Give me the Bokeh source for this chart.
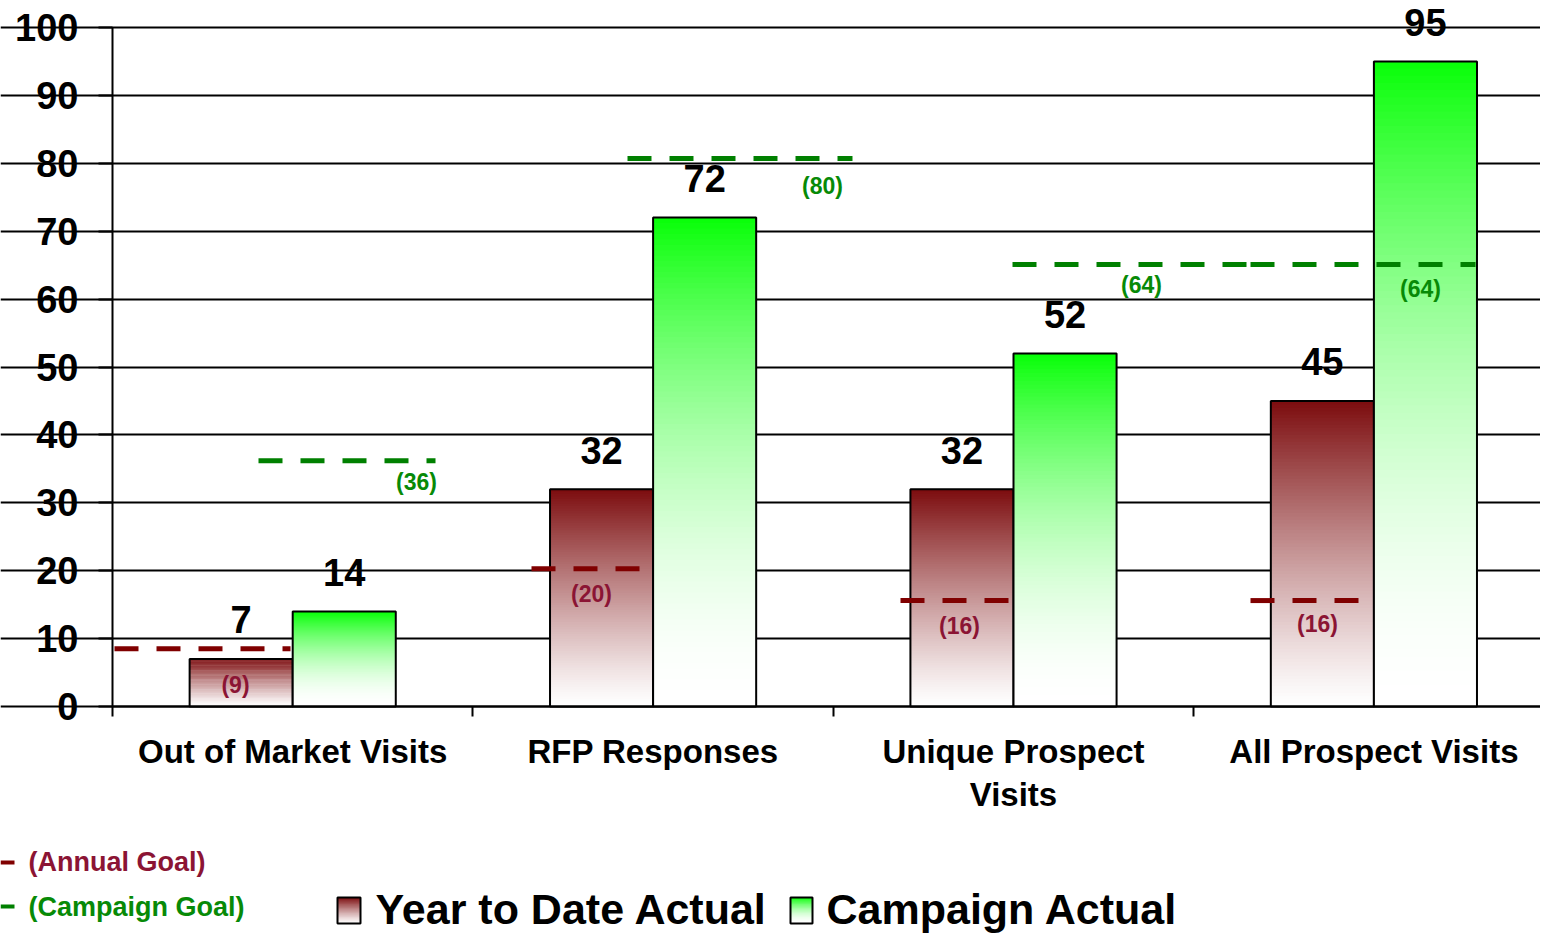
from bokeh.plotting import figure
from bokeh.models import Range1d, LinearAxis, FixedTicker, Grid
from bokeh.core.properties import value
from bokeh.embed import file_html
from bokeh.resources import INLINE

# ---- data ----
categories = ["Out of Market Visits", "RFP Responses", "Unique Prospect\nVisits", "All Prospect Visits"]
ytd_actual = [7, 32, 32, 45]
campaign_actual = [14, 72, 52, 95]
annual_goal = [9, 20, 16, 16]
campaign_goal = [36, 80, 64, 64]
# goal line levels as drawn in the picture
annual_goal_level = [8.5, 20.3, 15.6, 15.6]
campaign_goal_level = [36.2, 80.7, 65.1, 65.1]
y_ticks = [0, 10, 20, 30, 40, 50, 60, 70, 80, 90, 100]

# ---- layout constants ----
FONT = "Liberation Sans"
W, H = 1540, 933
AX_X, AX_Y = 112, 706   # pixel position of the data origin
PX_X = 360.4            # pixels per category
PX_Y = 6.79             # pixels per unit
X0 = -AX_X / PX_X
X1 = (W - AX_X) / PX_X
Y1 = AX_Y / PX_Y
Y0 = -(H - AX_Y) / PX_Y

def px_x(ix):  # pixel -> data x
    return (ix - AX_X) / PX_X

def px_y(iy):  # pixel -> data y
    return (AX_Y - iy) / PX_Y

BAR_W = 0.286
YTD_TOP = (124, 12, 14)
CAMP_TOP = (8, 255, 8)
YTD_GAMMA = 1.2
CAMP_GAMMA = 1.8
ANNUAL_LINE = "#800000"
ANNUAL_TEXT = "#8B1434"
CAMP_LINE = "#008000"
CAMP_TEXT = "#078A07"

p = figure(width=W, height=H, output_backend="svg", toolbar_location=None,
           x_range=Range1d(X0, X1), y_range=Range1d(Y0, Y1),
           x_axis_type=None, y_axis_type=None,
           min_border_left=0, min_border_right=0, min_border_top=0, min_border_bottom=0)
p.outline_line_color = None
p.background_fill_color = "white"
p.border_fill_color = "white"
p.xgrid.visible = False
p.ygrid.visible = False

yticker = FixedTicker(ticks=y_ticks, minor_ticks=[])
grid = Grid(dimension=1, ticker=yticker, grid_line_color="black", grid_line_width=2,
            bounds=(0, X1))
p.add_layout(grid)


def shade(rgb, f, gamma):
    g = f ** gamma
    return "#%02x%02x%02x" % tuple(int(round(255 + (c - 255) * g)) for c in rgb)


def gradient_rect(x0, x1, y0, y1, rgb, gamma, n=90):
    lefts, rights, bottoms, tops, colors = [], [], [], [], []
    step = (y1 - y0) / n
    for i in range(n):
        b = y0 + step * i
        t = min(y1, y0 + step * (i + 1.8))   # overlap to avoid seams
        lefts.append(x0)
        rights.append(x1)
        bottoms.append(b)
        tops.append(t)
        colors.append(shade(rgb, (i + 0.5) / n, gamma))
    p.quad(left=lefts, right=rights, bottom=bottoms, top=tops, fill_color=colors,
           line_color=None)
    p.quad(left=[x0], right=[x1], bottom=[y0], top=[y1],
           fill_color=None, line_color="black", line_width=2)


xs_ytd = [i + 0.5 - BAR_W / 2 for i in range(len(categories))]
xs_camp = [i + 0.5 + BAR_W / 2 for i in range(len(categories))]
for i in range(len(categories)):
    gradient_rect(xs_ytd[i] - BAR_W / 2, xs_ytd[i] + BAR_W / 2, 0, ytd_actual[i],
                  YTD_TOP, YTD_GAMMA)
    gradient_rect(xs_camp[i] - BAR_W / 2, xs_camp[i] + BAR_W / 2, 0, campaign_actual[i],
                  CAMP_TOP, CAMP_GAMMA)

# value labels
p.text(x=xs_ytd + xs_camp, y=ytd_actual + campaign_actual,
       text=[str(v) for v in ytd_actual + campaign_actual],
       text_font=value(FONT), text_font_style="bold", text_font_size="38px",
       text_align="center", text_baseline="alphabetic", y_offset=-39, text_color="black")

# goal lines (extents)
annual_x0 = [px_x(114), px_x(531), px_x(900), px_x(1250)]
annual_x1 = [px_x(290), px_x(640), px_x(1010), px_x(1360)]
camp_x0 = [px_x(258), px_x(627), px_x(1012), px_x(1250)]
camp_x1 = [px_x(435), px_x(852), px_x(1250), px_x(1475)]

p.segment(x0=annual_x0, x1=annual_x1, y0=annual_goal_level, y1=annual_goal_level,
          line_color=ANNUAL_LINE, line_width=5, line_dash="24 18")
p.segment(x0=camp_x0, x1=camp_x1, y0=campaign_goal_level, y1=campaign_goal_level,
          line_color=CAMP_LINE, line_width=5, line_dash="24 18")

# goal labels
annual_lbl_x = [px_x(235), px_x(591), px_x(959), px_x(1317)]
annual_lbl_dy = [36, 25, 25, 23]
camp_lbl_x = [px_x(416), px_x(822), px_x(1141), px_x(1420)]
camp_lbl_dy = [21, 27, 21, 25]
for i in range(len(categories)):
    p.text(x=[annual_lbl_x[i]], y=[annual_goal_level[i]], text=["(%d)" % annual_goal[i]],
           text_font=value(FONT), text_font_style="bold", text_font_size="23px",
           text_align="center", text_baseline="middle", y_offset=annual_lbl_dy[i],
           text_color=ANNUAL_TEXT)
    p.text(x=[camp_lbl_x[i]], y=[campaign_goal_level[i]], text=["(%d)" % campaign_goal[i]],
           text_font=value(FONT), text_font_style="bold", text_font_size="23px",
           text_align="center", text_baseline="middle", y_offset=camp_lbl_dy[i],
           text_color=CAMP_TEXT)

# axes
yaxis = LinearAxis(ticker=yticker, fixed_location=0, bounds=(0, 100),
                   axis_line_color="black", axis_line_width=2,
                   major_tick_line_color="black", major_tick_line_width=2,
                   major_tick_out=14, major_tick_in=0,
                   minor_tick_line_color=None,
                   major_label_standoff=20,
                   major_label_text_font=FONT, major_label_text_font_style="bold",
                   major_label_text_font_size="38px", major_label_text_color="black")
p.add_layout(yaxis, "left")

xticker = FixedTicker(ticks=[i + 0.5 for i in range(len(categories))],
                      minor_ticks=list(range(len(categories))))
xaxis = LinearAxis(ticker=xticker, fixed_location=0, bounds=(0, X1),
                   axis_line_color="black", axis_line_width=2,
                   major_tick_line_color=None, major_tick_out=0, major_tick_in=0,
                   minor_tick_line_color="black", minor_tick_line_width=2,
                   minor_tick_out=10, minor_tick_in=0,
                   major_label_standoff=16,
                   major_label_overrides={i + 0.5: c for i, c in enumerate(categories)},
                   major_label_text_font=FONT, major_label_text_font_style="bold",
                   major_label_text_font_size="33px", major_label_text_color="black",
                   major_label_text_line_height=1.17)
p.add_layout(xaxis, "below")

# left goal legend
p.segment(x0=[X0, X0], x1=[px_x(14), px_x(14)], y0=[px_y(862), px_y(906)],
          y1=[px_y(862), px_y(906)], line_color=[ANNUAL_LINE, CAMP_LINE], line_width=4)
p.text(x=[px_x(28), px_x(28)], y=[px_y(861), px_y(906)],
       text=["(Annual Goal)", "(Campaign Goal)"],
       text_font=value(FONT), text_font_style="bold", text_font_size="27px",
       text_align="left", text_baseline="middle", text_color=[ANNUAL_TEXT, CAMP_TEXT])

# bottom series legend with gradient swatches
gradient_rect(px_x(337), px_x(360), px_y(923), px_y(897), YTD_TOP, YTD_GAMMA, n=20)
gradient_rect(px_x(790), px_x(812), px_y(923), px_y(897), CAMP_TOP, CAMP_GAMMA, n=20)
p.text(x=[px_x(375), px_x(826)], y=[px_y(908), px_y(908)],
       text=["Year to Date Actual", "Campaign Actual"],
       text_font=value(FONT), text_font_style="bold", text_font_size="43px",
       text_align="left", text_baseline="middle", text_color="black")

open("out.html", "w").write(file_html(p, INLINE))
